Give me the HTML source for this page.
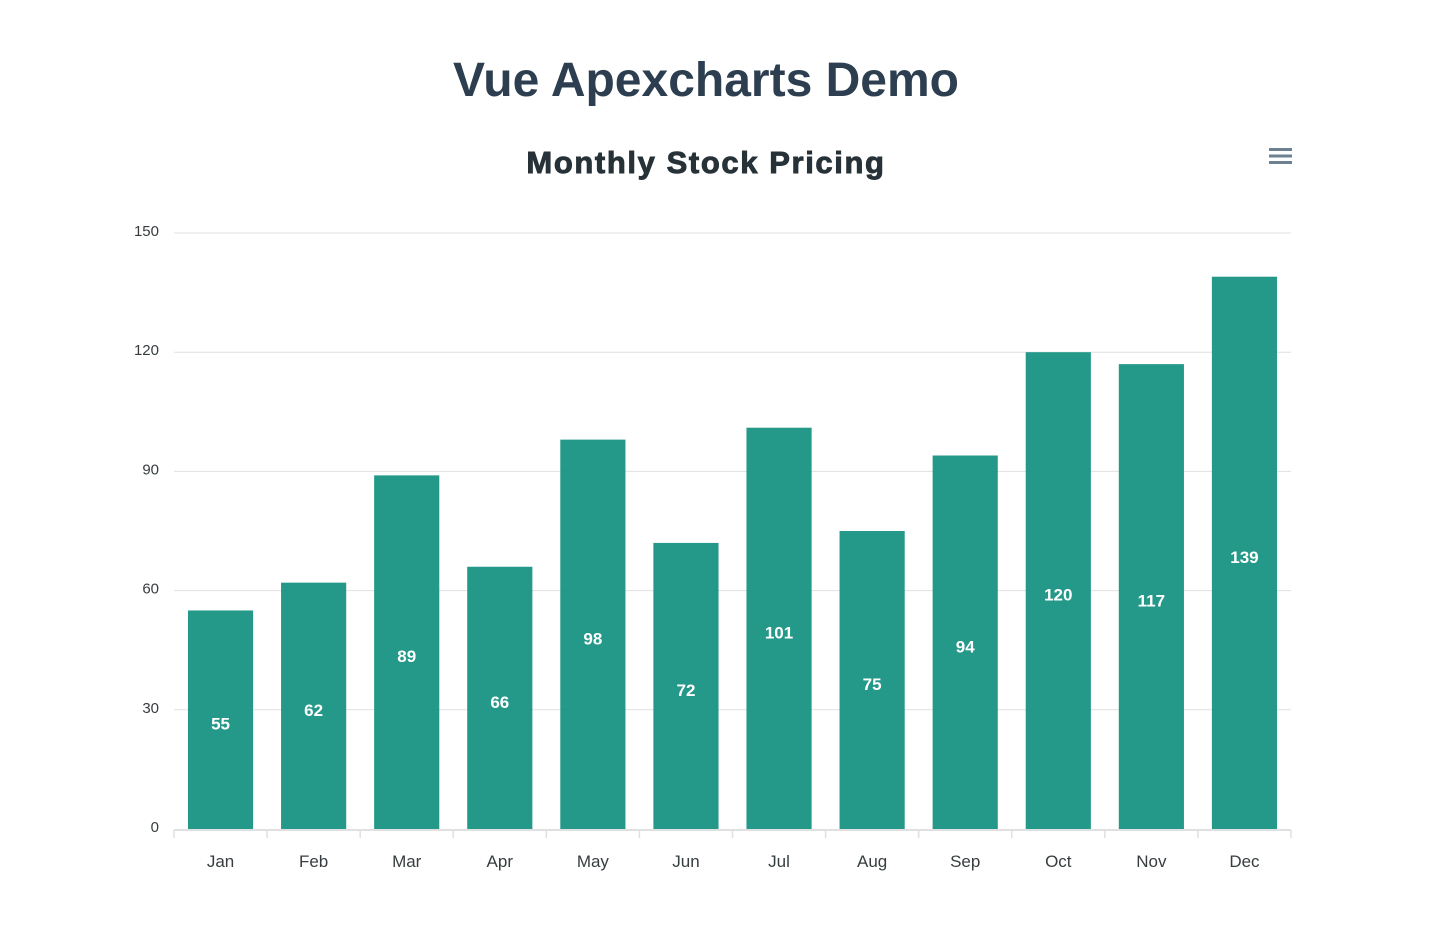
<!DOCTYPE html>
<html><head><meta charset="utf-8"><style>
html,body{margin:0;padding:0;background:#fff;width:1446px;height:928px;overflow:hidden;font-family:"Liberation Sans",Arial,sans-serif}
h1{position:absolute;left:0;width:1412px;top:53px;margin:0;text-align:center;font-size:48px;font-weight:bold;color:#2c3e50}
</style></head><body>
<h1>Vue Apexcharts Demo</h1>
<svg id="c" width="1446" height="928" style="position:absolute;left:0;top:0">
<text x="706" y="173" text-anchor="middle" font-size="31" font-weight="bold" letter-spacing="1.6" stroke="#263238" stroke-width="0.9" fill="#263238" font-family="Liberation Sans, sans-serif">Monthly Stock Pricing</text>
<g fill="#6e8192">
<rect x="1269" y="148" width="23" height="3"/><rect x="1269" y="154.5" width="23" height="3"/><rect x="1269" y="161" width="23" height="3"/>
</g>
</svg>
<script>
const categories=["Jan","Feb","Mar","Apr","May","Jun","Jul","Aug","Sep","Oct","Nov","Dec"];
const values=[55,62,89,66,98,72,101,75,94,120,117,139];
const yTicks=[0,30,60,90,120,150];
const svg=document.getElementById('c');
const NS='http://www.w3.org/2000/svg';
const x0=174,x1=1291,yBase=829,yTop=233,yMax=150;
const bw=(x1-x0)/categories.length;
const y=v=>yBase-(v/yMax)*(yBase-yTop);
const xc=i=>x0+bw*(i+0.5);
function mk(t,a,txt){const e=document.createElementNS(NS,t);for(const k in a)e.setAttribute(k,a[k]);if(txt!=null)e.textContent=txt;svg.appendChild(e);return e;}
yTicks.forEach(t=>{
 if(t>0){const g=mk('line',{x1:x0,x2:x1,y1:y(t),y2:y(t),stroke:'#e0e0e0','stroke-width':1});
 
 }
 const l=mk('text',{x:159,y:y(t)+3,'text-anchor':'end','font-size':15,fill:'#373d3f','font-family':'Liberation Sans, sans-serif'},String(t));
 
 
});
values.forEach((v,i)=>{
 const w=bw*0.7;
 const r=mk('rect',{x:xc(i)-w/2,y:y(v),width:w,height:yBase-y(v),fill:'#12907f','fill-opacity':0.92});
 
 
 const t=mk('text',{x:xc(i),y:(y(v)+yBase)/2+10,'text-anchor':'middle','font-size':17,'font-weight':'bold',fill:'#fff','font-family':'Liberation Sans, sans-serif'},String(v));
 
 
 const c=mk('text',{x:xc(i),y:867,'text-anchor':'middle','font-size':17,fill:'#373d3f','font-family':'Liberation Sans, sans-serif'},categories[i]);
 
 
});
const ax=mk('line',{x1:x0,x2:x1,y1:yBase+1,y2:yBase+1,stroke:'#e0e0e0','stroke-width':2});


for(let i=0;i<=categories.length;i++){
 const tk=mk('line',{x1:x0+bw*i,x2:x0+bw*i,y1:yBase+1,y2:yBase+9,stroke:'#e0e0e0','stroke-width':1.5});
 
 
}
</script>
</body></html>
